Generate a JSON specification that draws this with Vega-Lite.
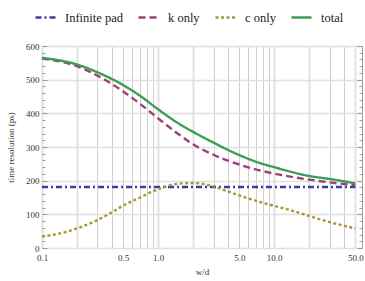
{
  "$schema": "https://vega.github.io/schema/vega-lite/v6.json",
  "width": 320,
  "height": 202,
  "autosize": {"type": "none"},
  "padding": {"left": 42, "top": 46, "right": 3, "bottom": 33},
  "background": "white",
  "config": {
    "view": {"stroke": "#9a9a9a", "strokeWidth": 1},
    "font": "'Liberation Serif', 'Times New Roman', serif",
    "axis": {"labelFont": "'Liberation Serif', 'Times New Roman', serif", "titleFont": "'Liberation Serif', 'Times New Roman', serif", "labelFontSize": 9, "titleFontSize": 9, "titleFontWeight": "normal", "labelColor": "#333", "titleColor": "#333", "domain": false},
    "legend": {"labelFont": "'Liberation Serif', 'Times New Roman', serif"}
  },
  "data": {
    "values": [
      {"x": 0.1, "y": 181, "series": "Infinite pad"},
      {"x": 50, "y": 181, "series": "Infinite pad"},
      {"x": 0.1, "y": 563, "series": "k only"},
      {"x": 0.2, "y": 540, "series": "k only"},
      {"x": 0.3, "y": 512, "series": "k only"},
      {"x": 0.5, "y": 465, "series": "k only"},
      {"x": 0.7, "y": 428, "series": "k only"},
      {"x": 1.0, "y": 385, "series": "k only"},
      {"x": 1.5, "y": 338, "series": "k only"},
      {"x": 2.0, "y": 308, "series": "k only"},
      {"x": 3.0, "y": 277, "series": "k only"},
      {"x": 5.0, "y": 248, "series": "k only"},
      {"x": 7.0, "y": 233, "series": "k only"},
      {"x": 10, "y": 221, "series": "k only"},
      {"x": 20, "y": 203, "series": "k only"},
      {"x": 30, "y": 195, "series": "k only"},
      {"x": 50, "y": 186, "series": "k only"},
      {"x": 0.1, "y": 34, "series": "c only"},
      {"x": 0.15, "y": 45, "series": "c only"},
      {"x": 0.2, "y": 58, "series": "c only"},
      {"x": 0.3, "y": 83, "series": "c only"},
      {"x": 0.4, "y": 106, "series": "c only"},
      {"x": 0.5, "y": 126, "series": "c only"},
      {"x": 0.7, "y": 150, "series": "c only"},
      {"x": 0.9, "y": 168, "series": "c only"},
      {"x": 1.2, "y": 184, "series": "c only"},
      {"x": 1.5, "y": 191, "series": "c only"},
      {"x": 2.0, "y": 193, "series": "c only"},
      {"x": 3.0, "y": 183, "series": "c only"},
      {"x": 4.0, "y": 168, "series": "c only"},
      {"x": 5.0, "y": 156, "series": "c only"},
      {"x": 7.0, "y": 140, "series": "c only"},
      {"x": 10, "y": 125, "series": "c only"},
      {"x": 15, "y": 109, "series": "c only"},
      {"x": 20, "y": 95, "series": "c only"},
      {"x": 30, "y": 77, "series": "c only"},
      {"x": 50, "y": 58, "series": "c only"},
      {"x": 0.1, "y": 565, "series": "total"},
      {"x": 0.2, "y": 545, "series": "total"},
      {"x": 0.3, "y": 522, "series": "total"},
      {"x": 0.5, "y": 484, "series": "total"},
      {"x": 0.7, "y": 452, "series": "total"},
      {"x": 1.0, "y": 412, "series": "total"},
      {"x": 1.5, "y": 370, "series": "total"},
      {"x": 2.0, "y": 345, "series": "total"},
      {"x": 3.0, "y": 313, "series": "total"},
      {"x": 5.0, "y": 276, "series": "total"},
      {"x": 7.0, "y": 256, "series": "total"},
      {"x": 10, "y": 240, "series": "total"},
      {"x": 20, "y": 214, "series": "total"},
      {"x": 30, "y": 205, "series": "total"},
      {"x": 50, "y": 192, "series": "total"}
    ]
  },
  "layer": [
    {
      "mark": {"type": "line", "interpolate": "monotone", "strokeWidth": 2.4},
      "encoding": {
        "x": {
          "field": "x", "type": "quantitative",
          "scale": {"type": "log", "domain": [0.1, 57], "nice": false, "zero": false},
          "axis": {
            "title": "w/d",
            "values": [0.1, 0.2, 0.3, 0.4, 0.5, 0.6, 0.7, 0.8, 0.9, 1, 2, 3, 4, 5, 6, 7, 8, 9, 10, 20, 30, 40, 50],
            "labelExpr": "indexof([0.1,0.5,1,5,10,50], datum.value) >= 0 ? format(datum.value, '.1f') : ''",
            "ticks": false,
            "labelPadding": 5,
            "labelFlush": false,
            "labelOverlap": false,
            "titlePadding": 5,
            "grid": true,
            "gridColor": {"condition": {"test": "indexof([0.1,0.2,1,2,10,20,50], datum.value) >= 0", "value": "#e2e2e2"}, "value": "#c4c4c4"},
            "gridWidth": {"condition": {"test": "indexof([0.1,0.2,1,2,10,20,50], datum.value) >= 0", "value": 2}, "value": 0.8}
          }
        },
        "y": {
          "field": "y", "type": "quantitative",
          "scale": {"domain": [0, 600], "nice": false},
          "axis": {
            "title": "time resolution (ps)",
            "values": [0, 100, 200, 300, 400, 500, 600],
            "ticks": false,
            "labelPadding": 3,
            "labelFlush": false,
            "titlePadding": 10,
            "grid": true,
            "gridColor": "#e0e0e0",
            "gridWidth": 1.3
          }
        },
        "color": {
          "field": "series", "type": "nominal",
          "scale": {"domain": ["Infinite pad", "k only", "c only", "total"], "range": ["#3b3ba6", "#9c3f7a", "#a8963c", "#3c9d55"]},
          "legend": {
            "orient": "none", "legendX": -8, "legendY": -40, "direction": "horizontal", "title": null,
            "symbolType": "stroke", "symbolSize": 400, "symbolStrokeWidth": 2.4,
            "labelFont": "'Liberation Serif', 'Times New Roman', serif", "labelFontSize": 12.5, "labelColor": "#222",
            "labelOffset": 8, "columnPadding": 10
          }
        },
        "strokeDash": {
          "field": "series", "type": "nominal",
          "scale": {"domain": ["Infinite pad", "k only", "c only", "total"], "range": [[6, 3, 2, 3], [7, 4], [3, 2.5], [1, 0]]},
          "legend": {
            "orient": "none", "legendX": -8, "legendY": -40, "direction": "horizontal", "title": null,
            "symbolType": "stroke", "symbolSize": 400, "symbolStrokeWidth": 2.4,
            "labelFont": "'Liberation Serif', 'Times New Roman', serif", "labelFontSize": 12.5, "labelColor": "#222",
            "labelOffset": 8, "columnPadding": 10
          }
        }
      }
    },
    {
      "mark": {"type": "point", "opacity": 0},
      "encoding": {
        "x": {"field": "x", "type": "quantitative"},
        "y": {
          "field": "y", "type": "quantitative",
          "axis": {
            "orient": "left", "title": null, "labels": false, "grid": false, "domain": false,
            "values": [0, 20, 40, 60, 80, 100, 120, 140, 160, 180, 200, 220, 240, 260, 280, 300, 320, 340, 360, 380, 400, 420, 440, 460, 480, 500, 520, 540, 560, 580, 600],
            "tickColor": "#888", "tickWidth": 0.8,
            "tickSize": {"condition": {"test": "datum.value % 100 == 0", "value": -5}, "value": -3}
          }
        }
      }
    },
    {
      "mark": {"type": "point", "opacity": 0},
      "encoding": {
        "x": {"field": "x", "type": "quantitative"},
        "y": {
          "field": "y", "type": "quantitative",
          "axis": {
            "orient": "right", "title": null, "labels": false, "grid": false, "domain": false,
            "values": [0, 20, 40, 60, 80, 100, 120, 140, 160, 180, 200, 220, 240, 260, 280, 300, 320, 340, 360, 380, 400, 420, 440, 460, 480, 500, 520, 540, 560, 580, 600],
            "tickColor": "#888", "tickWidth": 0.8,
            "tickSize": {"condition": {"test": "datum.value % 100 == 0", "value": -5}, "value": -3}
          }
        }
      }
    }
  ],
  "resolve": {"axis": {"y": "independent"}}
}
